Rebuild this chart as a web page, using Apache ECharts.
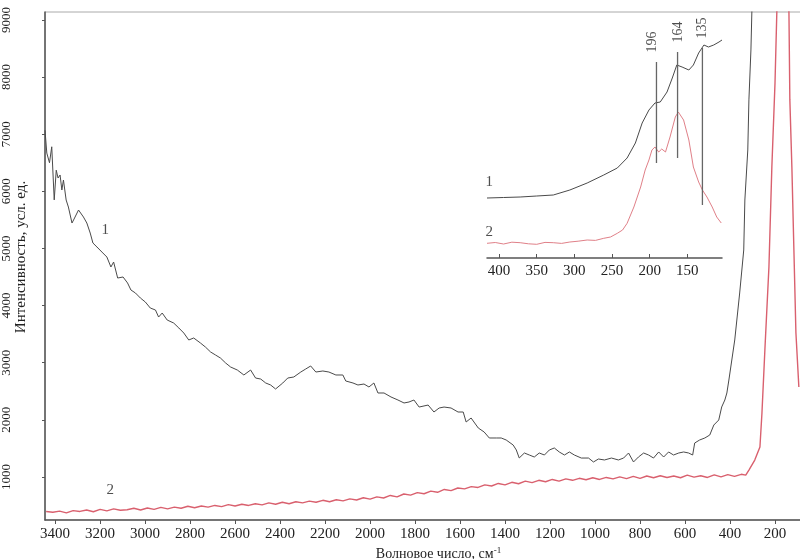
<!DOCTYPE html>
<html><head><meta charset="utf-8">
<script src="https://cdn.jsdelivr.net/npm/echarts@6/dist/echarts.min.js"></script>
<style>html,body{margin:0;padding:0;background:#fff}#c{width:800px;height:559px}</style>
</head><body><div id="c"></div>
<script>
const xTicks = [3400,3200,3000,2800,2600,2400,2200,2000,1800,1600,1400,1200,1000,800,600,400,200];
const yTicks = [1000,2000,3000,4000,5000,6000,7000,8000,9000];
const insetTicks = [400,350,300,250,200,150];

// curve 1 (main): [wavenumber, intensity]
const curve1 = [
[3445,7070],[3437,6670],[3425,6500],[3415,6780],[3410,6790],[3404,5850],[3395,6370],[3387,6233],[3378,6286],
[3370,6023],[3363,6198],[3351,5848],[3341,5725],[3325,5445],[3318,5498],[3296,5673],[3274,5550],[3259,5445],
[3244,5270],[3232,5095],[3214,5025],[3192,4937],[3170,4850],[3152,4675],[3140,4762],[3122,4482],[3098,4500],
[3078,4395],[3063,4272],[3043,4220],[3021,4132],[2999,4062],[2977,3957],[2954,3922],[2940,3799],[2924,3869],
[2902,3747],[2873,3694],[2850,3607],[2828,3519],[2806,3397],[2784,3432],[2754,3344],[2732,3274],[2709,3187],
[2687,3134],[2665,3081],[2642,2994],[2620,2924],[2590,2871],[2561,2784],[2531,2871],[2509,2731],[2486,2713],
[2464,2644],[2442,2609],[2420,2539],[2388,2644],[2366,2731],[2339,2749],[2308,2836],[2286,2889],[2264,2942],
[2241,2836],[2210,2854],[2183,2836],[2152,2784],[2121,2784],[2108,2679],[2076,2644],[2054,2609],[2027,2626],
[2005,2574],[1983,2644],[1965,2469],[1938,2469],[1907,2399],[1876,2346],[1849,2294],[1827,2311],[1805,2346],
[1782,2223],[1742,2258],[1716,2136],[1693,2206],[1671,2223],[1640,2206],[1609,2136],[1586,2136],[1573,1961],
[1551,2031],[1519,1856],[1493,1786],[1470,1681],[1439,1681],[1417,1681],[1395,1646],[1364,1558],[1350,1471],
[1337,1331],[1314,1418],[1292,1383],[1270,1348],[1248,1418],[1225,1383],[1203,1471],[1181,1506],[1159,1436],
[1136,1383],[1114,1436],[1092,1383],[1061,1330],[1029,1330],[1007,1261],[985,1313],[958,1296],[927,1330],
[896,1296],[873,1330],[851,1418],[829,1261],[807,1348],[784,1418],[762,1383],[740,1330],[717,1436],[695,1348],
[673,1436],[651,1383],[628,1418],[606,1436],[584,1418],[566,1383],[557,1593],[535,1646],[512,1681],[490,1733],
[472,1908],[450,1996],[437,2224],[423,2346],[414,2469],[405,2696],[379,3397],[357,4220],[339,4973],[334,5848],
[321,6724],[316,7601],[307,8475],[303,9122],[294,10225],[285,12000]
];

// curve 2 (main): [wavenumber, intensity]
const curve2 = [
[3440,395],[3410,380],[3380,400],[3350,370],[3320,410],[3290,395],[3260,420],[3230,390],[3200,430],[3170,405],
[3140,440],[3110,415],[3080,425],[3050,450],[3020,420],[2990,455],[2960,430],[2930,465],[2900,440],[2870,470],
[2840,450],[2810,485],[2780,460],[2750,490],[2720,470],[2690,500],[2660,480],[2630,515],[2600,490],[2570,520],
[2540,500],[2510,530],[2480,510],[2450,545],[2420,520],[2390,555],[2360,530],[2330,565],[2300,545],[2270,575],
[2240,555],[2210,590],[2180,565],[2150,600],[2120,580],[2090,615],[2060,595],[2030,635],[2000,610],[1970,650],
[1940,630],[1910,675],[1880,650],[1850,700],[1820,680],[1790,725],[1760,705],[1730,750],[1700,730],[1670,780],
[1640,760],[1610,805],[1580,790],[1550,830],[1520,815],[1490,860],[1460,840],[1430,885],[1400,860],[1370,905],
[1340,880],[1310,925],[1280,900],[1250,940],[1220,915],[1190,955],[1160,925],[1130,965],[1100,940],[1070,975],
[1040,950],[1010,985],[980,955],[950,990],[920,965],[890,1000],[860,970],[830,1010],[800,975],[770,1015],
[740,985],[710,1020],[680,990],[650,1015],[620,985],[590,1030],[560,995],[530,1020],[500,990],[470,1035],
[440,1000],[410,1040],[380,1010],[350,1045],[330,1030],[316,1120],[290,1295],[267,1523],[258,2118],[245,3222],
[227,4675],[214,6426],[200,7897],[192,9122],[183,10400],[165,12000],[145,10400],[138,9122],[134,7601],
[125,6426],[116,4973],[107,3519],[94,2574]
];

// inset curves: [wavenumber, relative intensity]
const inset1 = [
[416,60],[394,60.5],[372,61],[350,62],[328,63],[306,68],[283,75],[261,83],[243,90],[230,100],[219,115],[210,135],
[201,148],[193,155],[186,156],[177,166],[170,180],[164,193],[157,191],[148,188],[142,193],[135,205],[128,213],
[122,211],[115,213],[108,216],[104,218]
];
const inset2 = [
[416,14.7],[405,15.5],[394,14],[383,15.8],[372,15.3],[361,14.2],[350,13.7],[339,15.6],[328,15.3],[317,14.6],
[306,16],[295,16.8],[283,18],[272,17.6],[261,19.7],[252,21],[243,24.7],[236,28],[230,34.7],[221,51],[212,71],
[206,88],[201,98],[197,108],[193,111],[188,106],[184,109],[179,106],[173,121],[166,141],[162,146],[155,138],
[148,118],[142,91],[135,76],[130,68],[124,61],[117,51],[111,41],[105,35]
];

// peak marker lines in inset: [wavenumber, from, to]
const peakLines = [[191,95,196],[163,100,206],[130,53,210]];
const peakNames = ['196','164','135'];
const peakLabelPos = [[196,216],[162,226],[130,230]];

const serif = 'Liberation Serif';
const axisCol = '#555';
const plain = v => String(v);

const peakSeries = peakLines.map(p => ({
  type:'line', xAxisIndex:1, yAxisIndex:1, data:[[p[0],p[1]],[p[0],p[2]]],
  symbol:'none', lineStyle:{color:'#666', width:1.3}, silent:true, z:3
}));

const option = {
  animation:false,
  backgroundColor:'#fff',
  grid:[
    {left:45, right:-2, top:12, bottom:39, show:true, borderColor:'#aaa', borderWidth:1, outerBoundsMode:'none', containLabel:false},
    {left:487, right:78, top:12, bottom:301, outerBoundsMode:'none', containLabel:false}
  ],
  xAxis:[
    {type:'value', gridIndex:0, min:80, max:3445, inverse:true,
     axisLine:{lineStyle:{color:axisCol, width:1.5}},
     axisTick:{show:true, customValues:xTicks, length:4, lineStyle:{color:axisCol}},
     axisLabel:{customValues:xTicks, formatter:plain, color:'#222', fontFamily:serif, fontSize:15, margin:7},
     splitLine:{show:false},
     name:'Волновое число, см{sup|-1}', nameLocation:'middle', nameGap:26, nameMoveOverlap:false,
     nameTextStyle:{color:'#222', fontFamily:serif, fontSize:14, padding:[0,0,0,30],
       rich:{sup:{fontSize:9, fontFamily:serif, color:'#222', padding:[0,0,7,0]}}}
    },
    {type:'value', gridIndex:1, min:104, max:416, inverse:true,
     axisLine:{lineStyle:{color:axisCol, width:1.5}},
     axisTick:{show:true, inside:true, customValues:insetTicks, length:4, lineStyle:{color:axisCol}},
     axisLabel:{customValues:insetTicks, formatter:plain, color:'#222', fontFamily:serif, fontSize:15, margin:6},
     splitLine:{show:false}
    }
  ],
  yAxis:[
    {type:'value', gridIndex:0, min:245, max:9140,
     axisLine:{show:true, lineStyle:{color:axisCol, width:1.5}},
     axisTick:{show:true, customValues:yTicks, length:3, lineStyle:{color:axisCol}},
     axisLabel:{customValues:yTicks, formatter:plain, rotate:90, color:'#222', fontFamily:serif, fontSize:13, margin:32},
     splitLine:{show:false},
     name:'Интенсивность, усл. ед.', nameLocation:'middle', nameGap:16, nameMoveOverlap:false,
     nameTextStyle:{color:'#222', fontFamily:serif, fontSize:15, padding:[0,0,0,18]}
    },
    {type:'value', gridIndex:1, min:0, max:246, show:false}
  ],
  series:[
    {type:'line', xAxisIndex:0, yAxisIndex:0, data:curve2, symbol:'none',
     lineStyle:{color:'#d9606e', width:1.4}, z:2},
    {type:'line', xAxisIndex:0, yAxisIndex:0, data:curve1, symbol:'none',
     lineStyle:{color:'#4a4a4a', width:1}, z:3},
    {type:'line', xAxisIndex:1, yAxisIndex:1, data:inset2, symbol:'none',
     lineStyle:{color:'#e08088', width:1}, z:2},
    {type:'line', xAxisIndex:1, yAxisIndex:1, data:inset1, symbol:'none',
     lineStyle:{color:'#4a4a4a', width:1}, z:3},
    ...peakSeries,
    {type:'scatter', xAxisIndex:1, yAxisIndex:1, symbolSize:0, silent:true,
     data:peakLabelPos.map((p,i)=>[p[0],p[1],peakNames[i]]),
     label:{show:true, position:'inside', rotate:90, formatter:p=>p.value[2],
       color:'#222', fontFamily:serif, fontSize:14}},
    {type:'scatter', xAxisIndex:1, yAxisIndex:1, symbolSize:0, silent:true,
     data:[[413,76,'1'],[413,26,'2']],
     label:{show:true, position:'inside', formatter:p=>p.value[2], color:'#222', fontFamily:serif, fontSize:15}},
    {type:'scatter', xAxisIndex:0, yAxisIndex:0, symbolSize:0, silent:true,
     data:[[3177,5323,'1'],[3155,770,'2']],
     label:{show:true, position:'inside', formatter:p=>p.value[2], color:'#222', fontFamily:serif, fontSize:15}}
  ]
};
const chart = echarts.init(document.getElementById('c'), null, {renderer:'canvas'});
chart.setOption(option);
</script>
</body></html>
